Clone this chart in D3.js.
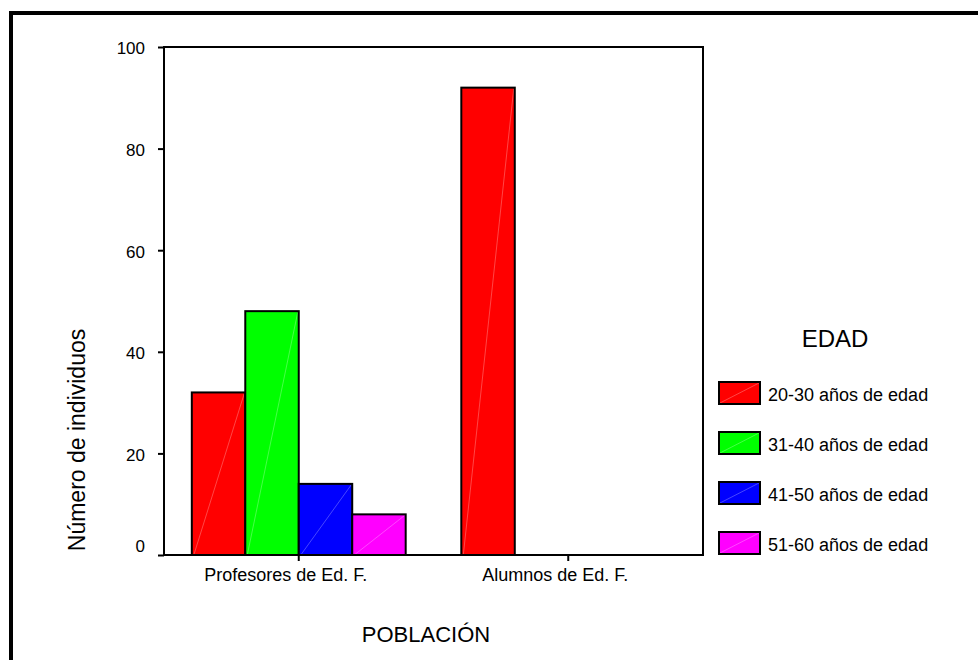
<!DOCTYPE html>
<html><head><meta charset="utf-8">
<script src="https://cdn.jsdelivr.net/npm/d3@7"></script>
<style>body{margin:0;background:#fff}svg{display:block}text{font-family:Arial,"Liberation Sans",sans-serif;fill:#000}</style>
</head><body><div id="chart"></div>
<script>
const categories = ["Profesores de Ed. F.", "Alumnos de Ed. F."];
const seriesNames = ["20-30 años de edad", "31-40 años de edad", "41-50 años de edad", "51-60 años de edad"];
const seriesColors = ["#ff0000", "#00ff00", "#0000ff", "#ff00ff"];
const valuesProfesores = [32, 48, 14, 8];
const valuesAlumnos = [92, 0, 0, 0];
const yTicks = [0, 20, 40, 60, 80, 100];
const xTitle = "POBLACIÓN";
const yTitle = "Número de individuos";
const legendTitle = "EDAD";

const W = 978, H = 660;
const svg = d3.select("#chart").append("svg").attr("width", W).attr("height", H);

// outer frame
svg.append("rect").attr("x", 11).attr("y", 13).attr("width", 1100).attr("height", 800)
  .attr("fill", "none").attr("stroke", "#000").attr("stroke-width", 4);

const L = 164, R = 703, T = 47, B = 555;
const x0 = d3.scaleBand().domain(categories).range([L, R]).paddingInner(0).paddingOuter(0);
const x1 = d3.scaleBand().domain(seriesNames).range([0, x0.bandwidth()]).paddingOuter(0.52).paddingInner(0);
const y = d3.scaleLinear().domain([0, 100]).range([B, T]);

const data = [valuesProfesores, valuesAlumnos];

// bars
categories.forEach((c, ci) => {
  const g = svg.append("g").attr("transform", `translate(${x0(c)},0)`);
  seriesNames.forEach((s, si) => {
    const v = data[ci][si];
    if (!v) return;
    const bx = x1(s), bw = x1.bandwidth(), by = y(v), bh = y(0) - y(v);
    g.append("rect").attr("x", bx).attr("y", by).attr("width", bw).attr("height", bh)
      .attr("fill", seriesColors[si]).attr("stroke", "none");
    g.append("line").attr("x1", bx + 2).attr("y1", y(0)).attr("x2", bx + bw - 1).attr("y2", by + 1)
      .attr("stroke", "#fff").attr("stroke-opacity", 0.35).attr("stroke-width", 0.8);
    g.append("rect").attr("x", bx).attr("y", by).attr("width", bw).attr("height", bh)
      .attr("fill", "none").attr("stroke", "#000").attr("stroke-width", 2);
  });
});

// plot frame
svg.append("rect").attr("x", L).attr("y", T).attr("width", R - L).attr("height", B - T)
  .attr("fill", "none").attr("stroke", "#000").attr("stroke-width", 2);

// y axis
const yAxis = d3.axisLeft(y).tickValues(yTicks).tickSize(6).tickPadding(12).tickFormat(d3.format("d"));
const ya = svg.append("g").attr("transform", `translate(${L},0)`).call(yAxis);
ya.select(".domain").remove();
ya.selectAll(".tick line").attr("stroke", "#000").attr("stroke-width", 2);
ya.selectAll(".tick text").style("font-size", "17px").attr("x", -19)
  .attr("dy", d => d === 0 ? "-0.2em" : "0.4em");

// x axis
const xAxis = d3.axisBottom(x0).tickSize(6).tickPadding(8);
const xa = svg.append("g").attr("transform", `translate(0,${B})`).call(xAxis);
xa.select(".domain").remove();
xa.selectAll(".tick line").attr("stroke", "#000").attr("stroke-width", 2);
xa.selectAll(".tick text").style("font-size", "18px").attr("x", -13).attr("y", 12).attr("dy", "0.75em");

// titles
svg.append("text").attr("x", 426).attr("y", 642).attr("text-anchor", "middle").style("font-size", "22px").text(xTitle);
svg.append("text").attr("transform", "translate(85,440) rotate(-90)").attr("text-anchor", "middle").style("font-size", "23px").text(yTitle);

// legend
svg.append("text").attr("x", 835).attr("y", 347).attr("text-anchor", "middle").style("font-size", "24px").text(legendTitle);
const lg = svg.append("g");
seriesNames.forEach((s, i) => {
  const ly = 382 + i * 50;
  lg.append("rect").attr("x", 719).attr("y", ly).attr("width", 41).attr("height", 22).attr("fill", seriesColors[i]);
  lg.append("line").attr("x1", 720).attr("y1", ly + 21).attr("x2", 759).attr("y2", ly + 1)
    .attr("stroke", "#fff").attr("stroke-opacity", 0.35).attr("stroke-width", 0.8);
  lg.append("rect").attr("x", 719).attr("y", ly).attr("width", 41).attr("height", 22)
    .attr("fill", "none").attr("stroke", "#000").attr("stroke-width", 2);
  lg.append("text").attr("x", 768).attr("y", ly + 19).style("font-size", "18px").text(s);
});
</script></body></html>
